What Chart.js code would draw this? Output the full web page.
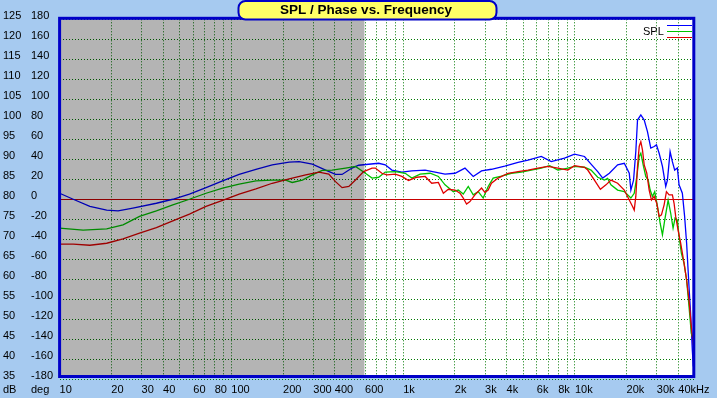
<!DOCTYPE html>
<html>
<head>
<meta charset="utf-8">
<script src="https://cdn.jsdelivr.net/npm/chart.js@4.4.1/dist/chart.umd.min.js"></script>
<style>
  html, body { margin: 0; padding: 0; background: #a6caf0; }
  #wrap { width: 717px; height: 398px; }
</style>
</head>
<body>
<div id="wrap"><canvas id="myChart" width="717" height="398"></canvas></div>
<script>
// SPL curves: frequency (Hz) and level (dB)
const blueHz = [10, 12, 15, 18.8, 21.9, 26.7, 36.6, 45.6, 57, 71.2, 88.9, 111, 139, 173, 217, 248, 296, 354, 404, 441,
  504, 551, 720, 787, 860, 983, 1123, 1343, 1535, 1754, 2005, 2291, 2559, 2860, 3267, 3907, 4667, 5333, 6370, 7278,
  8704, 9947, 11370, 12415, 13580, 14515, 15870, 17730, 19390, 20725, 21175, 21950, 22630, 23150, 24200, 25320, 26450, 27650, 28930, 29840,
  30930, 32330, 33790, 34570, 35830, 36940, 38100, 39500, 40400, 42220, 43530, 44710, 46160, 47160, 48250, 48900];
const blueDb = [81.5, 80, 78.2, 77.3, 77.1, 77.8, 79, 80, 81.3, 82.9, 84.6, 86.2, 87.5, 88.6, 89.3, 89.4, 88.8, 87.3, 86.2, 86.2,
  87.8, 88.5, 89, 88.6, 87.3, 86.8, 87.1, 87.3, 86.8, 86.3, 86.5, 87.8, 85.7, 87.1, 87.5, 88.3, 89.2, 89.8, 90.7, 89.4,
  90.3, 91.3, 90.7, 88.8, 86.9, 85.3, 86.5, 88.6, 89, 86.5, 82.3, 84.8, 92, 99.8, 101.1, 99.8, 96.9, 92.8, 93.2, 93.6,
  91.5, 88.2, 83.2, 84.8, 91.9, 89.4, 87.3, 87.8, 83.6, 81.5, 75.7, 69, 58.2, 51.5, 42.3, 38.2];

const greenHz = [10, 13.7, 18.8, 23.4, 29.2, 36.6, 45.6, 57, 71.2, 88.9, 111, 139, 173, 207, 226, 259, 296, 338, 386, 462,
  528, 603, 659, 720, 787, 900, 1029, 1123, 1256, 1436, 1604, 1754, 1960, 2095, 2239, 2394, 2559, 2736, 2925, 3127,
  3343, 3735, 4267, 4877, 5573, 6370, 7125, 7960, 9095, 9947, 11370, 12415, 13580, 14850, 15510, 16210, 17730, 19390, 21175, 22150,
  22940, 23680, 24200, 25080, 25860, 26700, 27430, 28280, 29160, 30240, 31350, 32330, 33340, 34890, 36120, 37290, 38300, 39500, 40400, 41660,
  43190, 44710, 46160, 47600, 48900];
const greenDb = [72.8, 72.3, 72.6, 73.6, 75.7, 77.1, 78.6, 80, 81.5, 82.8, 83.8, 84.6, 84.8, 84.8, 84.2, 84.8, 86.1, 87.2, 87.3, 87.8,
  88.2, 86.5, 85.3, 85.5, 86.8, 86.9, 86.5, 85.3, 86.3, 86.5, 85.7, 83.6, 81.9, 82.3, 81.3, 83.2, 81.1, 81.9, 80.3, 83.2,
  85.3, 85.8, 86.5, 86.8, 87.3, 87.8, 88.4, 87.3, 87.8, 88.2, 88, 87.3, 85.5, 84.8, 85.2, 83.6, 82.3, 81.9, 80.3, 81.5,
  85.7, 90.7, 91.5, 88.2, 85.7, 84.8, 82.3, 80.7, 81.9, 78.2, 74, 71.1, 74.8, 79.8, 76.5, 72.8, 75.3, 74.8, 70.7, 66.5,
  64, 59.8, 53.2, 46.5, 44.8];

const redHz = [10, 12, 15, 18.8, 23.4, 29.2, 36.6, 45.6, 57, 71.2, 88.9, 111, 139, 173, 217, 271, 323, 369, 404, 441,
  483, 528, 589, 659, 689, 752, 804, 900, 983, 1075, 1201, 1343, 1467, 1604, 1715, 1834, 2005, 2143, 2239, 2340,
  2449, 2618, 2860, 2992, 3127, 3267, 3573, 4083, 4667, 5333, 6095, 6965, 7960, 9095, 9947, 11370, 11880, 12990, 14075, 15170,
  16210, 17730, 19390, 20725, 21660, 22150, 22630, 23150, 23680, 24200, 24750, 25320, 26210, 27060, 27910, 28930, 29950, 30930, 31900, 33070,
  34110, 35360, 36940, 37790, 38610, 39870, 41280, 43190, 44710, 46160, 47600, 48900];
const redDb = [68.8, 68.8, 68.5, 69, 70.1, 71.5, 72.9, 74.6, 76.3, 78.2, 79.7, 81.3, 82.6, 84, 85.1, 86.1, 86.8, 86.3, 84.4, 82.9,
  83.2, 84.8, 86.9, 87.8, 87.8, 86.5, 86.1, 86.3, 85.7, 84.7, 85.5, 85.7, 84, 84.2, 81.5, 82.5, 82.3, 81.5, 80.3, 78.8,
  79.4, 81.1, 82.8, 81.7, 82.3, 84, 85.3, 86.5, 86.9, 87.3, 87.8, 88.2, 87.8, 87.3, 88.4, 88, 87.3, 84.8, 82.5, 83.6,
  84.8, 84, 82.3, 79.8, 78.2, 77.3, 80.7, 88.2, 93.2, 94.4, 92.3, 88.6, 86.5, 82.3, 79.8, 80.7, 79, 75.7, 76.1, 78.6,
  81.9, 81.1, 81.1, 79, 75.7, 72.3, 69, 64, 59.8, 54.8, 48.2, 43.6];

// axis ticks
const dbTicks = [35, 40, 45, 50, 55, 60, 65, 70, 75, 80, 85, 90, 95, 100, 105, 110, 115, 120, 125];
const degTicks = [-180, -160, -140, -120, -100, -80, -60, -40, -20, 0, 20, 40, 60, 80, 100, 120, 140, 160, 180];
const xLabelHz = [10, 20, 30, 40, 60, 80, 100, 200, 300, 400, 600, 1000, 2000, 3000, 4000, 6000, 8000, 10000, 20000, 30000, 40000];
const xLabelText = ["10", "20", "30", "40", "60", "80", "100", "200", "300", "400", "600", "1k", "2k", "3k", "4k", "6k", "8k", "10k", "20k", "30k", "40kHz"];

const minHz = 10;
const maxHz = 49560;
const grayEndHz = 595;
const dbMin = 35.8;
const dbMax = 125;
const refDb = 80; // 0 deg line

const FONT = "'Liberation Sans', Arial, sans-serif";

// grid every 1..9 x decade
const gridHz = [];
for (let d = 10; d <= 10000; d *= 10) {
  for (let m = 1; m <= 9; m++) {
    if (m * d <= maxHz) gridHz.push(m * d);
  }
}

const toPoints = (hz, db) => hz.map((f, i) => ({ x: f, y: db[i] }));

const decor = {
  id: "decor",
  beforeDraw(chart) {
    const { ctx, chartArea: a } = chart;
    ctx.save();
    ctx.fillStyle = "#a6caf0";
    ctx.fillRect(0, 0, chart.width, chart.height);
    ctx.fillStyle = "#ffffff";
    ctx.fillRect(a.left, a.top, a.right - a.left, a.bottom - a.top);
    ctx.restore();
  },
  beforeDatasetsDraw(chart) {
    // solid 0 deg reference line
    const { ctx, chartArea: a, scales } = chart;
    const y = Math.floor(scales.y.getPixelForValue(refDb));
    ctx.save();
    ctx.fillStyle = "#c80000";
    ctx.fillRect(a.left, y, a.right - a.left, 1);
    ctx.restore();
  },
  afterDatasetsDraw(chart) {
    const { ctx, chartArea: a, scales } = chart;
    const xEnd = scales.x.getPixelForValue(grayEndHz);
    // grey band darkens everything under it
    ctx.save();
    ctx.globalCompositeOperation = "multiply";
    ctx.fillStyle = "rgb(180,180,180)";
    ctx.fillRect(a.left, a.top, xEnd - a.left, a.bottom - a.top);
    ctx.restore();
    // frame
    ctx.save();
    ctx.strokeStyle = "#0000c8";
    ctx.lineWidth = 3;
    ctx.strokeRect(a.left, a.top - 1, a.right - 0.5 - a.left, a.bottom + 1.5 - a.top);
    ctx.restore();
  },
  afterDraw(chart) {
    const ctx = chart.ctx;
    ctx.save();
    // title box
    ctx.beginPath();
    ctx.roundRect(238.5, 1, 258, 18.5, 7);
    ctx.fillStyle = "#ffff66";
    ctx.fill();
    ctx.lineWidth = 2;
    ctx.strokeStyle = "#0000c8";
    ctx.stroke();
    ctx.fillStyle = "#000";
    ctx.font = "bold 13.5px " + FONT;
    ctx.textAlign = "center";
    ctx.textBaseline = "middle";
    ctx.fillText("SPL / Phase vs. Frequency", 366, 10);

    // legend
    ctx.font = "11px " + FONT;
    ctx.textAlign = "left";
    ctx.fillText("SPL", 643, 32);
    const cols = chart.data.datasets.map((d) => d.borderColor);
    [cols[2], cols[1], cols[0]].forEach((c, i) => {
      ctx.fillStyle = c;
      ctx.fillRect(667, 25 + i * 6, 25, 1);
    });

    // unit labels under the y columns
    ctx.fillStyle = "#000";
    ctx.fillText("dB", 3, 390);
    ctx.fillText("deg", 31, 390);
    ctx.restore();
  },
};

const tickFont = { family: FONT, size: 11 };

const ctx = document.getElementById("myChart").getContext("2d");
const myChart = new Chart(ctx, {
  type: "line",
  data: {
    datasets: [
      { data: toPoints(redHz, redDb), borderColor: "#e00000" },
      { data: toPoints(greenHz, greenDb), borderColor: "#00c400" },
      { data: toPoints(blueHz, blueDb), borderColor: "#0000ff" },
    ].map((d) => ({ ...d, borderWidth: 1.3, pointRadius: 0, tension: 0, fill: false, yAxisID: "y" })),
  },
  options: {
    responsive: false,
    devicePixelRatio: 1,
    animation: false,
    events: [],
    layout: { padding: { left: 3, right: 20, top: 19.3, bottom: 0 } },
    plugins: { legend: { display: false }, tooltip: { enabled: false } },
    scales: {
      x: {
        type: "logarithmic",
        min: minHz,
        max: maxHz,
        afterBuildTicks: (axis) => {
          axis.ticks = gridHz.map((v) => ({ value: v }));
        },
        afterFit: (axis) => {
          axis.height = 22;
        },
        ticks: {
          align: "start",
          padding: 7,
          autoSkip: false,
          maxRotation: 0,
          color: "#000",
          font: tickFont,
          callback: (v) => {
            const i = xLabelHz.indexOf(v);
            return i >= 0 ? xLabelText[i] : "";
          },
        },
        grid: { drawTicks: false, color: "#007800", lineWidth: 1 },
        border: { display: false, dash: [1, 2] },
      },
      y: {
        type: "linear",
        position: "left",
        weight: 1,
        min: dbMin,
        max: dbMax,
        afterBuildTicks: (axis) => {
          axis.ticks = dbTicks.map((v) => ({ value: v }));
        },
        afterFit: (axis) => {
          axis.width = 28;
        },
        ticks: {
          crossAlign: "far",
          labelOffset: -3.5,
          padding: 0,
          autoSkip: false,
          color: "#000",
          font: tickFont,
          callback: (v) => String(v),
        },
        grid: {
          drawTicks: false,
          lineWidth: 1,
          color: (c) => (c.tick && c.tick.value === refDb ? "rgba(0,0,0,0)" : "#007800"),
        },
        border: { display: false, dash: [1, 2] },
      },
      yDeg: {
        type: "linear",
        position: "left",
        weight: 0,
        min: (dbMin - refDb) * 4,
        max: (dbMax - refDb) * 4,
        afterBuildTicks: (axis) => {
          axis.ticks = degTicks.map((v) => ({ value: v }));
        },
        afterFit: (axis) => {
          axis.width = 28.6;
        },
        ticks: {
          crossAlign: "far",
          labelOffset: -3.5,
          padding: 0,
          autoSkip: false,
          color: "#000",
          font: tickFont,
          callback: (v) => String(v),
        },
        grid: { display: false, drawTicks: false },
        border: { display: false },
      },
    },
  },
  plugins: [decor],
});
</script>
</body>
</html>
